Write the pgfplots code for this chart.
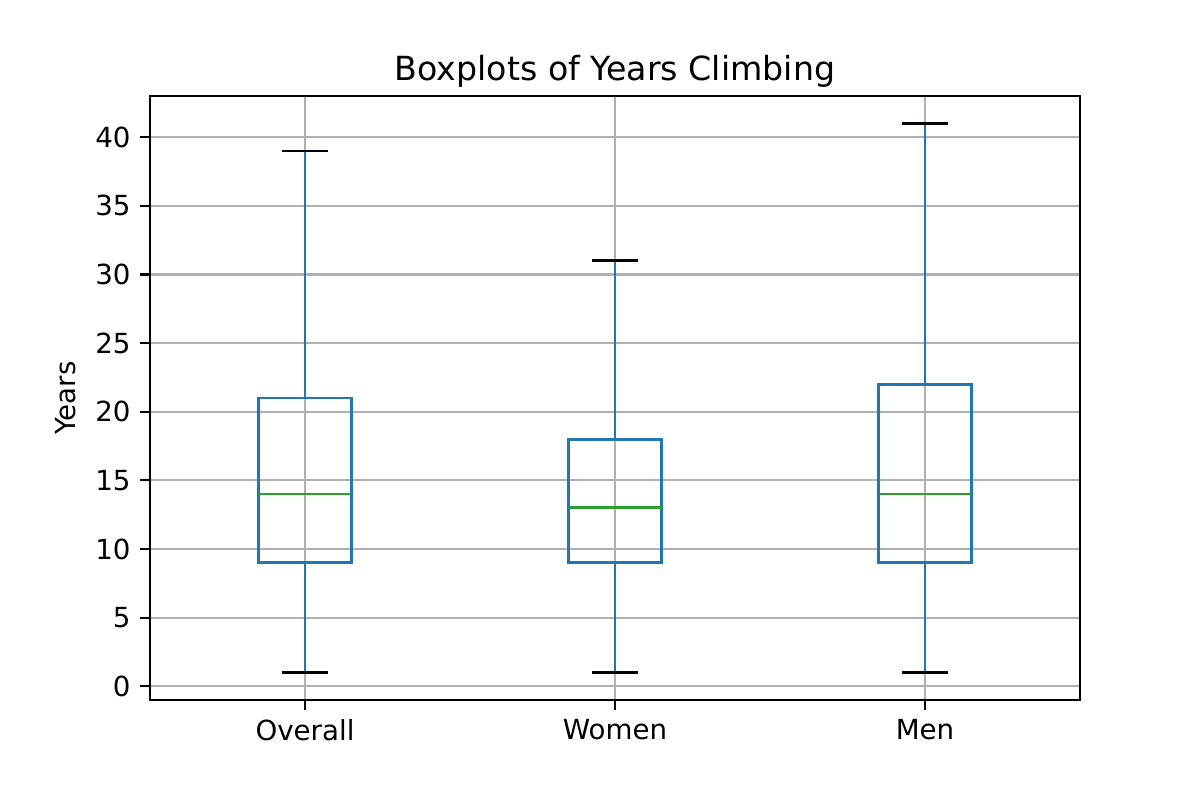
\documentclass[border=0pt]{standalone}
\usepackage{fontspec}
\setmainfont{DejaVu Sans}
\usepackage{pgfplots}
\pgfplotsset{compat=1.18}
\usepgfplotslibrary{statistics}
\definecolor{mblue}{HTML}{1F77B4}
\definecolor{mgreen}{HTML}{2CA02C}
\definecolor{gridc}{HTML}{B0B0B0}
% blue whisker line, black cap
\pgfplotsset{
  /pgfplots/boxplot/draw/lower whisker/.code={
    \draw[mblue, line width=1pt]
      (boxplot cs:\pgfplotsboxplotvalue{lower whisker}) --
      (boxplot cs:\pgfplotsboxplotvalue{lower quartile});
    \draw[black, line width=1pt]
      (boxplot whisker cs:\pgfplotsboxplotvalue{lower whisker},0) --
      (boxplot whisker cs:\pgfplotsboxplotvalue{lower whisker},1);
  },
  /pgfplots/boxplot/draw/upper whisker/.code={
    \draw[mblue, line width=1pt]
      (boxplot cs:\pgfplotsboxplotvalue{upper quartile}) --
      (boxplot cs:\pgfplotsboxplotvalue{upper whisker});
    \draw[black, line width=1pt]
      (boxplot whisker cs:\pgfplotsboxplotvalue{upper whisker},0) --
      (boxplot whisker cs:\pgfplotsboxplotvalue{upper whisker},1);
  },
}
\begin{document}
\begin{tikzpicture}
\useasboundingbox (-0.75in,-0.5in) rectangle (5.25in,3.5in);
\begin{axis}[
  at={(0,0)}, anchor=south west,
  scale only axis, width=4.65in, height=3.02in,
  xmin=0.5, xmax=3.5, ymin=-1, ymax=43,
  xtick={1,2,3}, xticklabels={Overall,Women,Men},
  ytick={0,5,...,40},
  grid=major, grid style={draw=gridc, line width=0.8pt},
  axis line style={line width=0.8pt},
  tick align=outside, major tick length=3.5pt,
  tick style={black, line width=0.8pt},
  xtick pos=lower, ytick pos=left,
  ticklabel style={font=\fontsize{10}{12}\selectfont},
  /pgf/number format/assume math mode=true,
  ylabel={Years}, label style={font=\fontsize{10}{12}\selectfont},
  title={Boxplots of Years Climbing},
  title style={font=\fontsize{12}{14}\selectfont, yshift=-6.5pt},
  boxplot/draw direction=y,
  boxplot/box extend=0.3, boxplot/whisker extend=0.15,
  boxplot/every median/.style={draw=mgreen, line width=1pt},
  boxplot/every box/.style={draw=mblue, line width=1pt},
]
\addplot[draw=mblue, line width=1pt, boxplot prepared={
  lower whisker=1, lower quartile=9, median=14,
  upper quartile=21, upper whisker=39, draw position=1}] coordinates {};
\addplot[draw=mblue, line width=1pt, boxplot prepared={
  lower whisker=1, lower quartile=9, median=13,
  upper quartile=18, upper whisker=31, draw position=2}] coordinates {};
\addplot[draw=mblue, line width=1pt, boxplot prepared={
  lower whisker=1, lower quartile=9, median=14,
  upper quartile=22, upper whisker=41, draw position=3}] coordinates {};
\end{axis}
\end{tikzpicture}
\end{document}
